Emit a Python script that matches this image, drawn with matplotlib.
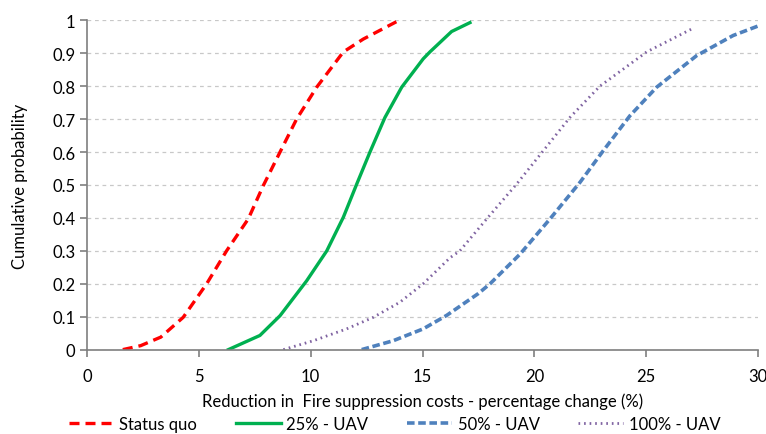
import numpy as np
import matplotlib.pyplot as plt

plt.rcParams['font.family'] = ['Lato', 'DejaVu Sans']

# values (x = % change, y = cumulative probability)
status_x = [1.6, 2.4, 3.3, 4.3, 5.35, 6.24, 7.21, 7.88, 8.63, 9.37, 10.27, 11.46, 12.35, 13.84]
status_y = [0.0, 0.012, 0.038, 0.098, 0.2, 0.3, 0.397, 0.498, 0.6, 0.7, 0.797, 0.904, 0.943, 0.996]

uav25_x = [6.32, 7.73, 8.63, 9.82, 10.72, 11.46, 12.06, 12.65, 13.32, 14.07, 15.03, 15.33, 16.3, 17.12]
uav25_y = [0.0, 0.043, 0.103, 0.209, 0.3, 0.402, 0.503, 0.6, 0.705, 0.797, 0.883, 0.904, 0.966, 0.993]

uav50_x = [12.28, 13.69, 15.03, 16.08, 17.49, 18.02, 19.36, 20.7, 22.04, 23.08, 24.27, 25.47, 27.26, 28.89, 30.09]
uav50_y = [0.0, 0.027, 0.063, 0.104, 0.17, 0.2, 0.29, 0.397, 0.508, 0.604, 0.71, 0.797, 0.893, 0.954, 0.985]

uav100_x = [8.78, 10.12, 11.61, 12.8, 13.99, 15.03, 16.23, 16.67, 17.87, 19.21, 20.4, 21.59, 22.93, 25.02, 27.1]
uav100_y = [0.0, 0.027, 0.063, 0.098, 0.144, 0.2, 0.279, 0.3, 0.397, 0.503, 0.604, 0.705, 0.8, 0.904, 0.976]

fig = plt.figure(figsize=(7.66, 4.35), dpi=100)
ax = fig.add_axes([0.1136, 0.194, 0.876, 0.757])

ax.plot(status_x, status_y, color='#FF0000', lw=2.4, dashes=(3.0, 1.8), label='Status quo')
ax.plot(uav25_x, uav25_y, color='#00B050', lw=2.4, label='25% - UAV')
ax.plot(uav50_x, uav50_y, color='#4F81BD', lw=2.6, dashes=(2.1, 1.0), label='50% - UAV')
ax.plot(uav100_x, uav100_y, color='#8064A2', lw=2.0, dashes=(0.6, 1.4), label='100% - UAV')

ax.set_xlim(0, 30)
ax.set_ylim(0, 1)
ax.set_xticks(np.arange(0, 31, 5))
ax.set_yticks(np.arange(0, 1.01, 0.1))
ax.set_yticklabels(['0', '0.1', '0.2', '0.3', '0.4', '0.5', '0.6', '0.7', '0.8', '0.9', '1'])
ax.grid(axis='y', color='#C8C8C8', ls=(0, (3, 3)), lw=0.9)
ax.set_axisbelow(True)

for s in ['top', 'right']:
    ax.spines[s].set_visible(False)
for s in ['left', 'bottom']:
    ax.spines[s].set_color('#7F7F7F')
    ax.spines[s].set_linewidth(1.2)
ax.tick_params(colors='#7F7F7F', labelcolor='black', labelsize=12, length=5, width=1.2)
ax.tick_params(axis='x', pad=8)

ax.set_xlabel('Reduction in  Fire suppression costs - percentage change (%)', fontsize=12, labelpad=6)
ax.set_ylabel('Cumulative probability', fontsize=12, labelpad=17)

fig.legend(loc='center', bbox_to_anchor=(0.515, 0.024), ncol=4, frameon=False,
           fontsize=12, handlelength=2.7, columnspacing=2.3, handletextpad=0.35)

fig.savefig('out.png', dpi=100)
